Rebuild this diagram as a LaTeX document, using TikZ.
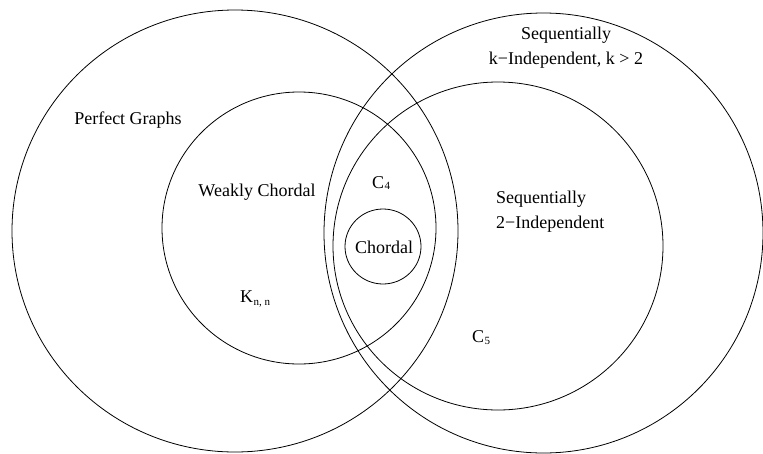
\documentclass[tikz,border=0pt]{standalone}
\usepackage{fontspec}
\setmainfont{Liberation Serif}
\begin{document}
\begin{tikzpicture}[x=1pt,y=-1pt,
  setline/.style={draw=black, line width=0.8pt},
  lbl/.style={font=\fontsize{18}{25}\selectfont, inner sep=0pt, align=center},
  subs/.style={font=\fontsize{11}{12}\selectfont, inner sep=0pt}]
\useasboundingbox (0,0) rectangle (763,453);
% sets
\draw[setline] (235,231) ellipse [x radius=223pt, y radius=221pt];
\draw[setline] (543.5,233) ellipse [x radius=219.5pt, y radius=220pt];
\draw[setline] (299,228) ellipse [x radius=137pt, y radius=136pt];
\draw[setline] (498,246) ellipse [x radius=165pt, y radius=164pt];
\draw[setline] (383,246.5) ellipse [x radius=38pt, y radius=37.5pt];
% labels
\node[lbl] (perfect) at (128,120) {Perfect Graphs};
\node[lbl] (seqk) at (566,48) {Sequentially\\k−Independent, k > 2};
\node[lbl] (weak) at (257,192) {Weakly Chordal};
\node[lbl, anchor=base west] (c4) at (372,188) {C};
\node[subs, anchor=base west] (c4s) at ([yshift=-1pt]c4.base east) {4};
\node[lbl] (chordal) at (384,247) {Chordal};
\node[lbl, align=left, anchor=west] (seq2) at (496,212) {Sequentially\\2−Independent};
\node[lbl, anchor=base west] (k) at (240,302) {K};
\node[subs, anchor=base west] (ks) at ([yshift=-3pt]k.base east) {n, n};
\node[lbl, anchor=base west] (c5) at (472,342) {C};
\node[subs, anchor=base west] (c5s) at ([yshift=-2pt]c5.base east) {5};
\end{tikzpicture}
\end{document}
